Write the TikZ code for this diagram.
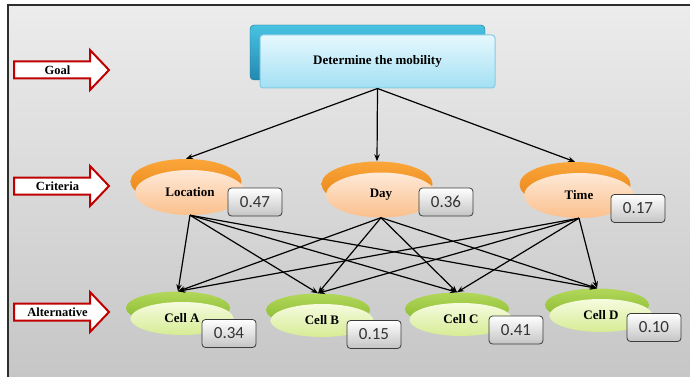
\documentclass[tikz,border=0pt]{standalone}
\usepackage{fontspec}
\setmainfont{Liberation Serif}
\newfontfamily\numfont{Carlito}
\usetikzlibrary{shapes.geometric,arrows.meta}

\definecolor{bgtop}{HTML}{ECECEC}
\definecolor{bgbot}{HTML}{C6C6C6}
\definecolor{framecol}{HTML}{2E2E2E}
\definecolor{levelred}{HTML}{C00000}
\definecolor{tealtop}{HTML}{48C2E2}
\definecolor{tealbot}{HTML}{2389B0}
\definecolor{skytop}{HTML}{E6F8FE}
\definecolor{skybot}{HTML}{A3E0F3}
\definecolor{skyedge}{HTML}{86CBE3}
\definecolor{orangetop}{HTML}{FBA63A}
\definecolor{orangebot}{HTML}{E57F12}
\definecolor{peachtop}{HTML}{FEE9D8}
\definecolor{peachbot}{HTML}{FBC08C}
\definecolor{greentop}{HTML}{B2D85A}
\definecolor{greenbot}{HTML}{86B62C}
\definecolor{limetop}{HTML}{F6FBDF}
\definecolor{limebot}{HTML}{D6EC94}
\definecolor{boxedge}{HTML}{3C3C3C}
\definecolor{boxbot}{HTML}{C4C4C4}
\definecolor{numtext}{HTML}{333333}

\newcommand\levelarrow[3]{%
  \draw[levelred, fill=white, line width=2pt, line join=miter]
    (14,#2-8.5) -- (90,#2-8.5) -- (90,#2-20) -- (109,#2)
    -- (90,#2+20) -- (90,#2+8.5) -- (14,#2+8.5) -- cycle;
  \node[levellabel] (#1) at (57.5,#2) {#3};}

\begin{document}
\begin{tikzpicture}[x=1pt, y=-1pt,
  levellabel/.style={inner sep=0, font=\bfseries\fontsize{12.5}{14}\selectfont},
  goalback/.style={rectangle, rounded corners=4, minimum width=235, minimum height=55,
    inner sep=0, top color=tealtop, bottom color=tealbot, draw=tealbot!80!black, line width=0.4},
  goalfront/.style={rectangle, rounded corners=3, minimum width=235, minimum height=53,
    inner sep=0, top color=skytop, bottom color=skybot, draw=skyedge, line width=1,
    font=\bfseries\fontsize{13}{15}\selectfont},
  critback/.style={ellipse, minimum width=111, minimum height=45, inner sep=0,
    top color=orangetop, bottom color=orangebot},
  critfront/.style={ellipse, minimum width=110, minimum height=45, inner sep=0,
    top color=peachtop, bottom color=peachbot,
    font=\bfseries\fontsize{13}{15}\selectfont},
  altback/.style={ellipse, minimum width=104, minimum height=33, inner sep=0,
    top color=greentop, bottom color=greenbot},
  altfront/.style={ellipse, minimum width=103, minimum height=33, inner sep=0,
    top color=limetop, bottom color=limebot,
    font=\bfseries\fontsize{13}{15}\selectfont},
  valbox/.style={rectangle, rounded corners=3.5, minimum width=54, minimum height=28,
    inner sep=0, top color=white, bottom color=boxbot, draw=boxedge, line width=0.8,
    text=numtext, font=\numfont\fontsize{17}{19}\selectfont},
  link/.style={-{Stealth[length=7pt,width=5.5pt]}, line width=1.2pt, black}
]
\useasboundingbox (0,0) rectangle (690,377);

% panel background and frame
\shade[top color=bgtop, bottom color=bgbot] (8,5) rectangle (690,377);
\draw[framecol, line width=1.6pt] (8,377) -- (8,5) -- (690,5);

% level markers
\levelarrow{lvgoal}{70}{Goal}
\levelarrow{lvcrit}{186}{Criteria}
\levelarrow{lvalt}{312}{Alternative}

% goal
\node[goalback] (goalb) at (367.5,52.5) {};
\node[goalfront] (goal) at (377.5,61.5) {Determine the mobility};

% criteria
\node[critback]  (locb)  at (186,181.5) {};
\node[critfront] (loc)   at (190,192.5) {Location};
\node[critback]  (dayb)  at (377,184) {};
\node[critfront] (day)   at (381,195) {Day};
\node[critback]  (timeb) at (575,184.5) {};
\node[critfront] (time)  at (579,195.5) {Time};

% alternatives
\node[altback]  (cab) at (178,308) {};
\node[altfront] (ca)  at (182,318.5) {Cell A};
\node[altback]  (cbb) at (318,310) {};
\node[altfront] (cb)  at (322,320.5) {Cell B};
\node[altback]  (ccb) at (457,309) {};
\node[altfront] (cc)  at (461,319.5) {Cell C};
\node[altback]  (cdb) at (597,305) {};
\node[altfront] (cd)  at (601,315.5) {Cell D};

% weights
\node[valbox] (wloc)  at (255,202)   {0.47};
\node[valbox] (wday)  at (446,202)   {0.36};
\node[valbox] (wtime) at (638,208.5) {0.17};
\node[valbox] (wa)    at (229,333.5) {0.34};
\node[valbox] (wb)    at (374,334.5) {0.15};
\node[valbox] (wc)    at (516,330)   {0.41};
\node[valbox] (wd)    at (654,327.5) {0.10};

% goal to criteria
\foreach \c in {locb,dayb,timeb}
  \draw[link] (goal.south) -- (\c.north);

% criteria to alternatives
\foreach \s in {loc,day,time}
  \foreach \t in {cab,cbb,ccb,cdb}
    \draw[link] (\s.south) -- (\t.north);
\end{tikzpicture}
\end{document}
